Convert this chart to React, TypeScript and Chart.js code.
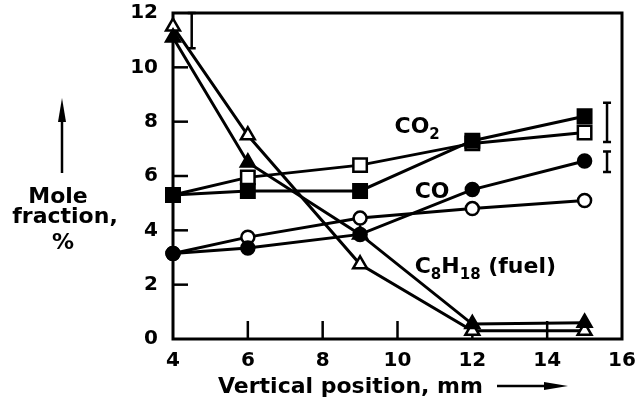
import React, { useEffect, useRef } from "react";
import { Chart, registerables } from "chart.js";

Chart.register(...registerables);

// ---- data ----
const positions = [4, 6, 9, 12, 15];
const co2Filled = [5.3, 5.45, 5.45, 7.3, 8.2];
const co2Open = [5.3, 5.95, 6.4, 7.2, 7.6];
const coFilled = [3.15, 3.35, 3.85, 5.5, 6.55];
const coOpen = [3.15, 3.75, 4.45, 4.8, 5.1];
const fuelFilled = [11.1, 6.5, 3.85, 0.55, 0.6];
const fuelOpen = [11.5, 7.5, 2.75, 0.3, 0.3];

const xTickValues = [4, 6, 8, 10, 12, 14, 16];
const yTickValues = [0, 2, 4, 6, 8, 10, 12];

const errorBarX = [4.5, 15.6, 15.6];
const errorBarLow = [10.7, 7.25, 6.15];
const errorBarHigh = [12.0, 8.7, 6.9];

const FONT = "'DejaVu Sans', sans-serif";

const pts = (ys: number[]) => positions.map((x, i) => ({ x, y: ys[i] }));

const decorPlugin = {
  id: "decor",
  beforeDatasetsDraw(chart: any) {
    const { ctx, chartArea } = chart;
    const xs = chart.scales.x;
    const ys = chart.scales.y;
    ctx.save();
    ctx.strokeStyle = "#000";
    ctx.lineWidth = 3;
    ctx.lineCap = "square";
    ctx.strokeRect(chartArea.left, chartArea.top, chartArea.right - chartArea.left, chartArea.bottom - chartArea.top);
    ctx.lineWidth = 2.5;
    ctx.lineCap = "butt";
    yTickValues.slice(1, -1).forEach((v) => {
      const y = ys.getPixelForValue(v);
      ctx.beginPath();
      ctx.moveTo(chartArea.left, y);
      ctx.lineTo(chartArea.left + 15, y);
      ctx.stroke();
    });
    xTickValues.slice(1, -1).forEach((v) => {
      const x = xs.getPixelForValue(v);
      ctx.beginPath();
      ctx.moveTo(x, chartArea.bottom);
      ctx.lineTo(x, chartArea.bottom - 18);
      ctx.stroke();
    });
    ctx.restore();
  },
  afterDatasetsDraw(chart: any) {
    const { ctx } = chart;
    const xs = chart.scales.x;
    const ys = chart.scales.y;
    ctx.save();
    ctx.strokeStyle = "#000";
    ctx.fillStyle = "#000";
    // error bars
    ctx.lineWidth = 2.5;
    errorBarX.forEach((xv, i) => {
      const x = xs.getPixelForValue(xv);
      const y1 = ys.getPixelForValue(errorBarLow[i]);
      const y2 = ys.getPixelForValue(errorBarHigh[i]);
      ctx.beginPath();
      ctx.moveTo(x, y1);
      ctx.lineTo(x, y2);
      ctx.moveTo(x - 4, y1);
      ctx.lineTo(x + 4, y1);
      ctx.moveTo(x - 4, y2);
      ctx.lineTo(x + 4, y2);
      ctx.stroke();
    });

    // series labels with subscripts
    const drawParts = (parts: [string, boolean][], xv: number, yv: number) => {
      let x = xs.getPixelForValue(xv);
      const y = ys.getPixelForValue(yv);
      ctx.textBaseline = "alphabetic";
      ctx.textAlign = "left";
      parts.forEach(([t, sub]) => {
        ctx.font = sub ? `bold 15px ${FONT}` : `bold 22px ${FONT}`;
        ctx.fillText(t, x, sub ? y + 6 : y);
        x += ctx.measureText(t).width;
      });
    };
    drawParts([["CO", false], ["2", true]], 9.92, 7.58);
    drawParts([["CO", false]], 10.46, 5.19);
    drawParts([["C", false], ["8", true], ["H", false], ["18", true], [" (fuel)", false]], 10.46, 2.43);
    ctx.restore();
  },
  afterDraw(chart: any) {
    const { ctx } = chart;
    ctx.save();
    ctx.fillStyle = "#000";
    ctx.strokeStyle = "#000";
    // y title
    ctx.font = `bold 22px ${FONT}`;
    ctx.textAlign = "center";
    ctx.textBaseline = "alphabetic";
    ctx.fillText("Mole", 58, 203);
    ctx.fillText("fraction,", 65, 223);
    ctx.fillText("%", 63, 249);
    // up arrow
    ctx.lineWidth = 2.5;
    ctx.beginPath();
    ctx.moveTo(62, 173);
    ctx.lineTo(62, 115);
    ctx.stroke();
    ctx.beginPath();
    ctx.moveTo(62, 98);
    ctx.lineTo(66, 122);
    ctx.lineTo(58, 122);
    ctx.closePath();
    ctx.fill();
    // x title
    ctx.textAlign = "left";
    ctx.fillText("Vertical position, mm", 218, 393);
    ctx.beginPath();
    ctx.moveTo(497, 386);
    ctx.lineTo(550, 386);
    ctx.stroke();
    ctx.beginPath();
    ctx.moveTo(568, 386);
    ctx.lineTo(544, 382);
    ctx.lineTo(544, 390);
    ctx.closePath();
    ctx.fill();
    ctx.restore();
  },
};

const zeroPad = (s: any) => {
  s.paddingTop = 0;
  s.paddingBottom = 0;
  s.paddingLeft = 0;
  s.paddingRight = 0;
};

export default function App() {
  const ref = useRef<HTMLCanvasElement>(null);
  useEffect(() => {
    const canvas = ref.current!;
    const mk = (label: string, data: number[], style: string, filled: boolean, radius: number) => ({
      label,
      data: pts(data),
      borderColor: "#000",
      borderWidth: 3,
      pointStyle: style,
      pointRadius: radius,
      pointBackgroundColor: filled ? "#000" : "#fff",
      pointBorderColor: "#000",
      pointBorderWidth: 2.5,
      showLine: true,
      fill: false,
      tension: 0,
      clip: false,
    });
    const chart = new Chart(canvas, {
      type: "line",
      data: {
        datasets: [
          mk("CO2 filled", co2Filled, "rect", true, 9.5),
          mk("CO filled", coFilled, "circle", true, 6.5),
          mk("Fuel filled", fuelFilled, "triangle", true, 8),
          mk("CO2 open", co2Open, "rect", false, 9.5),
          mk("CO open", coOpen, "circle", false, 6.5),
          mk("Fuel open", fuelOpen, "triangle", false, 8),
        ] as any,
      },
      options: {
        responsive: false,
        animation: false,
        layout: { padding: { left: 0, right: 15, top: 13, bottom: 0 } },
        plugins: { legend: { display: false }, tooltip: { enabled: false } },
        scales: {
          x: {
            type: "linear",
            min: 4,
            max: 16,
            afterBuildTicks: (s: any) => {
              s.ticks = xTickValues.map((v) => ({ value: v }));
            },
            afterFit: (s: any) => {
              s.height = 69;
              zeroPad(s);
            },
            grid: { display: false, drawTicks: false },
            border: { display: false },
            ticks: { color: "#000", font: { family: FONT, size: 20, weight: "bold" }, padding: 10, maxRotation: 0 },
          },
          y: {
            type: "linear",
            min: 0,
            max: 12,
            afterBuildTicks: (s: any) => {
              s.ticks = yTickValues.map((v) => ({ value: v }));
            },
            afterFit: (s: any) => {
              s.width = 173;
              zeroPad(s);
            },
            grid: { display: false, drawTicks: false },
            border: { display: false },
            ticks: { color: "#000", font: { family: FONT, size: 20, weight: "bold" }, padding: 15 },
          },
        },
      } as any,
      plugins: [decorPlugin],
    });
    return () => chart.destroy();
  }, []);
  return (
    <div style={{ position: "fixed", left: 0, top: 0, width: 637, height: 408, background: "#fff" }}>
      <canvas ref={ref} width={637} height={408} />
    </div>
  );
}
